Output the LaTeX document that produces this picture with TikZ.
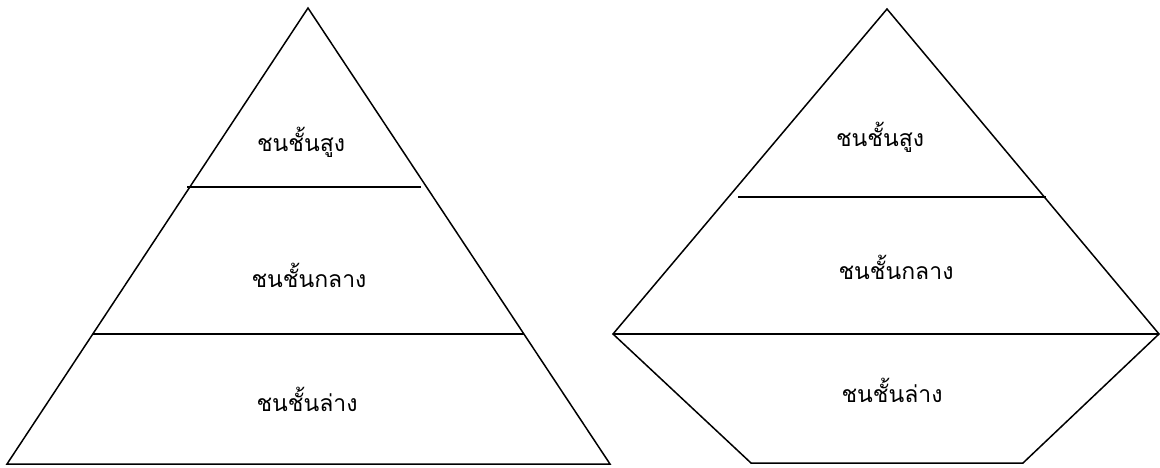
\documentclass[tikz,border=0pt]{standalone}
\usepackage{fontspec}
\newfontfamily\thaifont[Script=Thai]{Loma}
\tikzset{
  edge/.style={line width=1.5pt, line join=miter},
  lbl/.style={font=\thaifont\fontsize{23}{27}\selectfont, inner sep=0pt, anchor=center}
}
\begin{document}
\begin{tikzpicture}[x=1pt,y=-1pt]
\useasboundingbox (0,0) rectangle (1160,468);
% left pyramid
\coordinate (LA) at (308,8);
\coordinate (LBL) at (7,464);
\coordinate (LBR) at (610,464);
\draw[edge] (LA) -- (LBR) -- (LBL) -- cycle;
\coordinate (L1a) at (187,187);
\coordinate (L1b) at (421,187);
\draw[edge] (L1a) -- (L1b);
\coordinate (L2a) at (93,334);
\coordinate (L2b) at (524,334);
\draw[edge] (L2a) -- (L2b);
\node[lbl] (lt) at (301,142) {ชนชั้นสูง};
\node[lbl] (lm) at (309,275) {ชนชั้นกลาง};
\node[lbl] (lb) at (307,399) {ชนชั้นล่าง};
% right shape
\coordinate (RA) at (887,9);
\coordinate (RL) at (613,334);
\coordinate (RR) at (1159,334);
\coordinate (RBL) at (751,463);
\coordinate (RBR) at (1023,463);
\draw[edge] (RA) -- (RR) -- (RBR) -- (RBL) -- (RL) -- cycle;
\draw[edge] (RL) -- (RR);
\coordinate (R1a) at (738,197);
\coordinate (R1b) at (1046,197);
\draw[edge] (R1a) -- (R1b);
\node[lbl] (rt) at (880,137) {ชนชั้นสูง};
\node[lbl] (rm) at (896,267) {ชนชั้นกลาง};
\node[lbl] (rb) at (892,390) {ชนชั้นล่าง};
\end{tikzpicture}
\end{document}
